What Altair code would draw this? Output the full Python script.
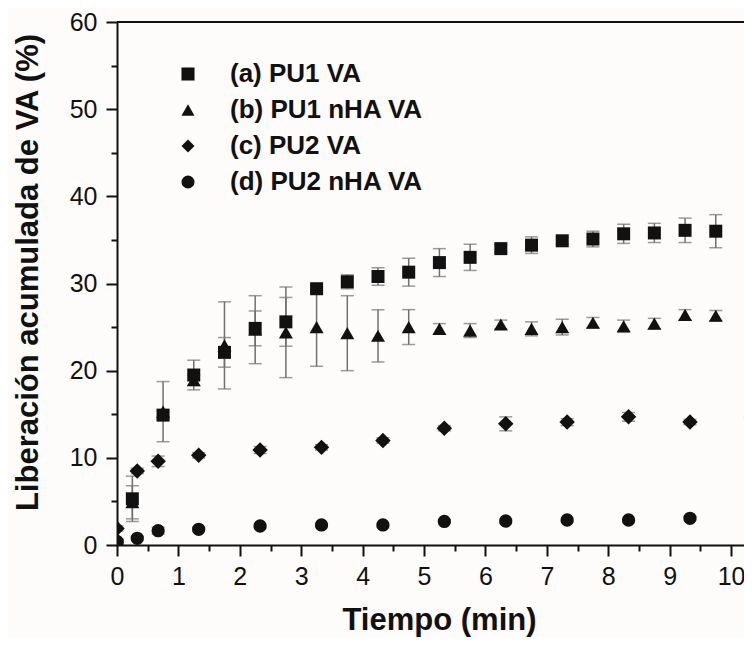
import altair as alt
import pandas as pd

# ---- data ----
series_names = ["(a) PU1 VA", "(b) PU1 nHA VA", "(c) PU2 VA", "(d) PU2 nHA VA"]
series_shapes = ["square", "triangle-up", "diamond", "circle"]
series_sizes = [169, 196, 240, 177]

t_ab = [0, 0.25, 0.75, 1.25, 1.75, 2.25, 2.75, 3.25, 3.75, 4.25, 4.75,
        5.25, 5.75, 6.25, 6.75, 7.25, 7.75, 8.25, 8.75, 9.25, 9.75]
a_val = [0, 5.3, 14.9, 19.5, 22.1, 24.85, 25.6, 29.4, 30.2, 30.8, 31.3,
         32.4, 33.0, 34.0, 34.4, 34.9, 35.1, 35.7, 35.8, 36.1, 36.0]
a_err = [0, 2.6, 0.5, 1.7, 1.7, 2.0, 2.8, 0.3, 0.8, 1.0, 1.6,
         1.6, 1.5, 0.4, 0.95, 0.4, 0.9, 1.1, 1.1, 1.4, 1.9]
b_val = [0, 4.9, 15.3, 18.9, 22.9, 24.7, 24.4, 25.0, 24.3, 24.0, 25.0,
         24.8, 24.6, 25.3, 24.8, 25.0, 25.5, 25.1, 25.4, 26.4, 26.3]
b_err = [0, 1.9, 3.45, 0.6, 5.0, 3.9, 5.2, 4.5, 4.3, 3.0, 2.0,
         0.6, 0.8, 0.5, 0.8, 0.9, 0.6, 0.7, 0.6, 0.6, 0.6]

t_cd = [0, 0.33, 0.67, 1.33, 2.33, 3.33, 4.33, 5.33, 6.33, 7.33, 8.33, 9.33, 10.33]
c_val = [1.9, 8.5, 9.6, 10.3, 10.9, 11.2, 12.0, 13.4, 13.9, 14.1, 14.7, 14.1, 14.6]
c_err = [0.3, 0.3, 0.6, 0.3, 0.4, 0.3, 0.3, 0.3, 0.8, 0.4, 0.5, 0.3, 0.8]
d_val = [0.4, 0.77, 1.64, 1.8, 2.18, 2.3, 2.3, 2.7, 2.75, 2.87, 2.87, 3.06, 3.17]
d_err = [0.1, 0.2, 0.4, 0.2, 0.2, 0.2, 0.2, 0.2, 0.2, 0.2, 0.2, 0.2, 0.2]

x_major = list(range(0, 11))
x_minor = [i + 0.5 for i in range(0, 10)]
y_major = list(range(0, 61, 10))
y_minor = list(range(5, 60, 10))
x_max = 10.34
y_max = 60

rows = []
for name, sz, ts, vs, es in [
    (series_names[0], series_sizes[0], t_ab, a_val, a_err),
    (series_names[1], series_sizes[1], t_ab, b_val, b_err),
    (series_names[2], series_sizes[2], t_cd, c_val, c_err),
    (series_names[3], series_sizes[3], t_cd, d_val, d_err),
]:
    for t, v, e in zip(ts, vs, es):
        rows.append({"serie": name, "sz": sz, "t": t, "v": v, "lo": v - e, "hi": v + e})
df = pd.DataFrame(rows)

FONT = "Liberation Sans"
INK = "#111111"
x_scale = alt.Scale(domain=[0, x_max], nice=False, zero=False)
y_scale = alt.Scale(domain=[0, y_max], nice=False)

x_axis = alt.Axis(
    orient="bottom",
    values=x_major, tickSize=11, labelFlush=False,
    title="Tiempo (min)",
    titleX=322, titleY=84, titleBaseline="alphabetic", titleAlign="center",
    labelPadding=8, grid=False,
)
y_axis = alt.Axis(
    orient="left",
    values=y_major, tickSize=11, labelFlush=False,
    title="Liberación acumulada de VA (%)",
    titleX=-80, titleY=250, titleAngle=270, titleBaseline="alphabetic",
    titleAlign="center",
    labelPadding=9, grid=False,
)
x_axis_minor = alt.Axis(orient="bottom", values=x_minor, tickSize=6, labels=False,
                        domain=False, title=None, grid=False)
y_axis_minor = alt.Axis(orient="left", values=y_minor, tickSize=6, labels=False,
                        domain=False, title=None, grid=False)

base = alt.Chart(df)

err_color = "#707070"
rules = base.mark_rule(clip=True, color=err_color, strokeWidth=1.5).encode(
    x=alt.X("t:Q", scale=x_scale, axis=None),
    y=alt.Y("lo:Q", scale=y_scale, axis=None),
    y2="hi:Q",
)
cap_lo = base.mark_tick(clip=True, color=err_color, orient="horizontal", size=13, thickness=1.5).encode(
    x=alt.X("t:Q", scale=x_scale, axis=None),
    y=alt.Y("lo:Q", scale=y_scale, axis=None),
)
cap_hi = base.mark_tick(clip=True, color=err_color, orient="horizontal", size=13, thickness=1.5).encode(
    x=alt.X("t:Q", scale=x_scale, axis=None),
    y=alt.Y("hi:Q", scale=y_scale, axis=None),
)

minor = base.mark_point(opacity=0).encode(
    x=alt.X("t:Q", scale=x_scale, axis=x_axis_minor),
    y=alt.Y("v:Q", scale=y_scale, axis=y_axis_minor),
)

points = base.mark_point(filled=True, color=INK, opacity=1, clip=True).encode(
    x=alt.X("t:Q", scale=x_scale, axis=x_axis),
    y=alt.Y("v:Q", scale=y_scale, axis=y_axis),
    shape=alt.Shape(
        "serie:N",
        scale=alt.Scale(domain=series_names, range=series_shapes),
        legend=alt.Legend(
            orient="none", legendX=58, legendY=39, title=None,
            labelFont=FONT, labelFontSize=26, labelFontWeight="bold", labelColor=INK,
            labelLimit=0,
            symbolSize=170, symbolFillColor=INK, symbolStrokeColor=INK, symbolStrokeWidth=0,
            symbolOpacity=1, rowPadding=10, labelOffset=29, padding=0,
        ),
    ),
    size=alt.Size("sz:Q", scale=None),
)

frame = pd.DataFrame({"x0": [0], "x1": [x_max], "y": [y_max]})
top_line = alt.Chart(frame).mark_rule(color=INK, strokeWidth=2).encode(
    x=alt.X("x0:Q", scale=x_scale, axis=None),
    x2="x1:Q",
    y=alt.Y("y:Q", scale=y_scale, axis=None),
)

chart = alt.layer(top_line, rules, cap_lo, cap_hi, minor, points).resolve_axis(
    x="independent", y="independent"
).properties(
    width=635, height=523,
    autosize=alt.AutoSizeParams(type="none"),
    padding={"left": 109, "top": 14, "right": -8, "bottom": 92},
    background="#fdfcfa",
).configure_view(stroke=None).configure_axis(
    labelFont=FONT, labelFontSize=25, labelColor=INK,
    titleFont=FONT, titleFontSize=31, titleFontWeight="bold", titleColor=INK,
    domainColor=INK, domainWidth=2, tickColor=INK, tickWidth=2,
)

chart.save("out.html", embed_options={"renderer": "svg", "actions": False})
